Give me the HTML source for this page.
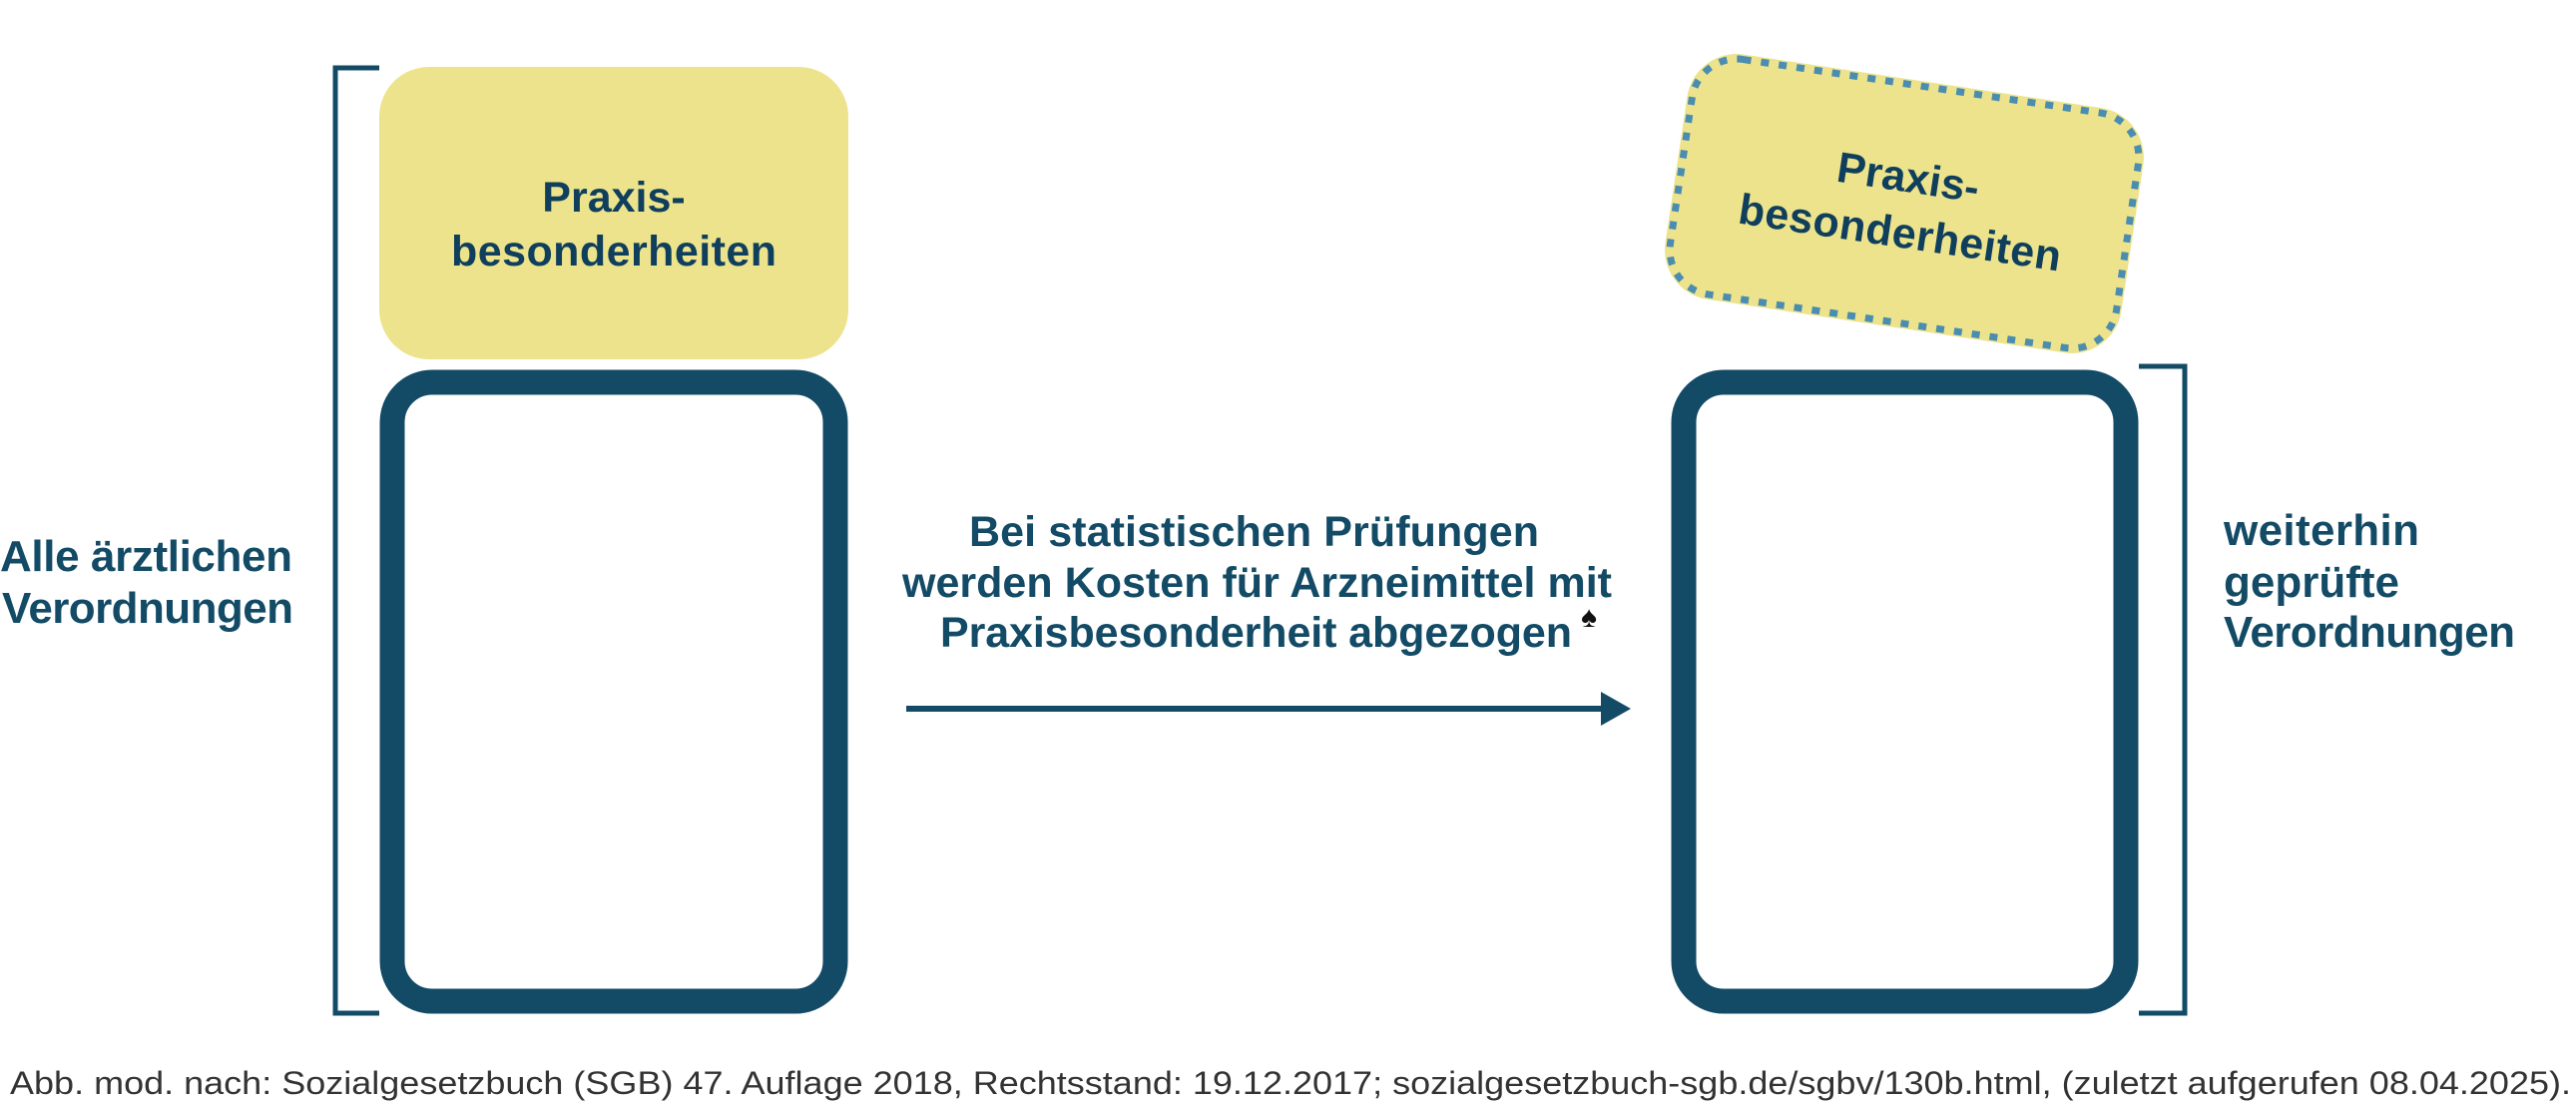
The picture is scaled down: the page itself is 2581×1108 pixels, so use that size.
<!DOCTYPE html>
<html><head><meta charset="utf-8"><style>
html,body{margin:0;padding:0;background:#fff;}
svg{display:block;}
text{font-family:"Liberation Sans",sans-serif;}
</style></head><body>
<svg width="2581" height="1108" viewBox="0 0 2581 1108" xmlns="http://www.w3.org/2000/svg">
<!-- left bracket -->
<path d="M380 68 H336 V1015 H380" fill="none" stroke="#134b66" stroke-width="5"/>
<!-- left yellow -->
<rect x="380" y="67" width="470" height="293" rx="50" fill="#ede38c"/>
<text x="615" y="212" font-size="43" font-weight="bold" fill="#0f3f5c" text-anchor="middle">Praxis-</text>
<text x="615" y="266" font-size="43" font-weight="bold" fill="#0f3f5c" text-anchor="middle" textLength="326">besonderheiten</text>
<!-- left navy box -->
<rect x="393" y="383" width="444" height="620" rx="40" fill="#fff" stroke="#134b66" stroke-width="25"/>
<!-- left text -->
<text x="0" y="572" font-size="44" font-weight="bold" fill="#134b66" textLength="293">Alle ärztlichen</text>
<text x="2" y="624" font-size="44" font-weight="bold" fill="#134b66" textLength="292">Verordnungen</text>
<!-- middle text -->
<text x="971" y="547" font-size="43" font-weight="bold" fill="#134b66" textLength="571">Bei statistischen Prüfungen</text>
<text x="904" y="598" font-size="43" font-weight="bold" fill="#134b66" textLength="711">werden Kosten für Arzneimittel mit</text>
<text x="942" y="648" font-size="43" font-weight="bold" fill="#134b66" textLength="633">Praxisbesonderheit abgezogen</text>
<text x="1584" y="628" font-size="30" fill="#111">♠</text>
<!-- arrow -->
<line x1="908" y1="710" x2="1608" y2="710" stroke="#134b66" stroke-width="6"/>
<polygon points="1604,693 1634,710 1604,727" fill="#134b66"/>
<!-- rotated yellow -->
<g transform="translate(1908 204) rotate(8.5)">
<rect x="-231" y="-124" width="462" height="248" rx="50" fill="#ede38c"/>
<rect x="-226" y="-119" width="452" height="238" rx="45" fill="none" stroke="#4a8db0" stroke-width="7" stroke-dasharray="8 10"/>
<text x="0" y="-12" font-size="43" font-weight="bold" fill="#0f3f5c" text-anchor="middle">Praxis-</text>
<text x="0" y="44" font-size="43" font-weight="bold" fill="#0f3f5c" text-anchor="middle" textLength="326">besonderheiten</text>
</g>
<!-- right navy box -->
<rect x="1687" y="383" width="443" height="620" rx="40" fill="#fff" stroke="#134b66" stroke-width="25"/>
<!-- right bracket -->
<path d="M2143 367 H2189 V1015 H2143" fill="none" stroke="#134b66" stroke-width="5"/>
<!-- right text -->
<text x="2228" y="546" font-size="44" font-weight="bold" fill="#134b66" textLength="196">weiterhin</text>
<text x="2228" y="598" font-size="44" font-weight="bold" fill="#134b66" textLength="176">geprüfte</text>
<text x="2228" y="648" font-size="44" font-weight="bold" fill="#134b66" textLength="292">Verordnungen</text>
<!-- footnote -->
<text x="10" y="1096" font-size="32" fill="#333" textLength="2566" lengthAdjust="spacingAndGlyphs">Abb. mod. nach: Sozialgesetzbuch (SGB) 47. Auflage 2018, Rechtsstand: 19.12.2017; sozialgesetzbuch-sgb.de/sgbv/130b.html, (zuletzt aufgerufen 08.04.2025).</text>
</svg>
</body></html>
